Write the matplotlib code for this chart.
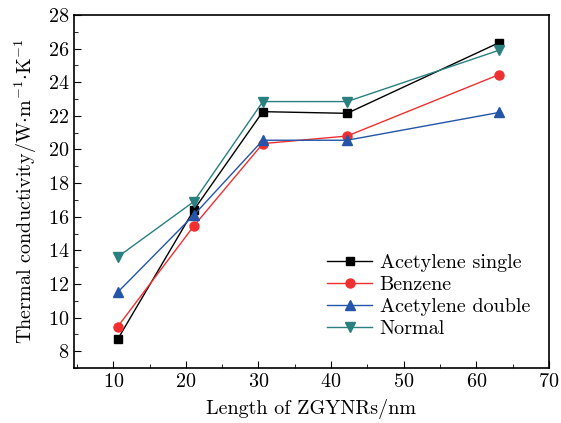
import matplotlib
matplotlib.use("Agg")
import matplotlib.pyplot as plt
from matplotlib.ticker import MultipleLocator

plt.rcParams["font.family"] = "serif"
plt.rcParams["font.serif"] = ["cmr10"]
plt.rcParams["mathtext.fontset"] = "cm"
plt.rcParams["axes.formatter.use_mathtext"] = True

# lengths of ZGYNRs (nm)
length = [10.6, 21.1, 30.6, 42.2, 63.1]

acetylene_single = [8.7, 16.4, 22.25, 22.15, 26.35]
benzene = [9.45, 15.45, 20.35, 20.8, 24.45]
acetylene_double = [11.5, 16.1, 20.55, 20.55, 22.2]
normal = [13.6, 16.9, 22.85, 22.85, 25.9]

fig = plt.figure(figsize=(5.61, 4.23), dpi=100)
ax = fig.add_axes([74 / 561, 1 - 368 / 423, 475 / 561, 353 / 423])

ax.plot(length, acetylene_single, color="black", marker="s", ms=6, lw=1, label="Acetylene single")
ax.plot(length, benzene, color="#f03030", marker="o", ms=6.5, lw=1, label="Benzene")
ax.plot(length, acetylene_double, color="#2455a8", marker="^", ms=7.5, lw=1, label="Acetylene double")
ax.plot(length, normal, color="#2a7f7f", marker="v", ms=7.5, lw=1, label="Normal")

ax.set_xlim(4.6, 70)
ax.set_ylim(7, 28)
ax.xaxis.set_major_locator(MultipleLocator(10))
ax.xaxis.set_minor_locator(MultipleLocator(5))
ax.yaxis.set_major_locator(MultipleLocator(2))
ax.yaxis.set_minor_locator(MultipleLocator(1))
ax.tick_params(which="both", direction="in", labelsize=14.5)
ax.tick_params(which="major", length=5)
ax.tick_params(which="minor", length=3)
for s in ax.spines.values():
    s.set_linewidth(1.2)

ax.set_xlabel("Length of ZGYNRs/nm", fontsize=14.5, labelpad=6)
ax.set_ylabel(r"Thermal conductivity/W$\cdot$m$^{-1}$$\cdot$K$^{-1}$", fontsize=14.5, labelpad=6)

ax.legend(loc="lower right", bbox_to_anchor=(0.99, 0.045), frameon=False, fontsize=14.5,
          handlelength=2.2, handletextpad=0.4, labelspacing=0.2, borderaxespad=0.3)

fig.savefig("out.png", dpi=100)
